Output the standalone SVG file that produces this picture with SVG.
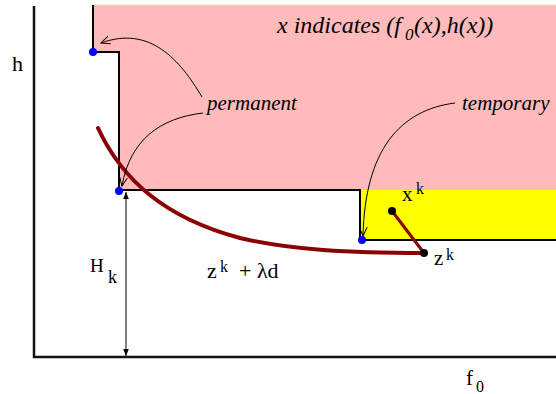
<svg xmlns="http://www.w3.org/2000/svg" width="556" height="394" viewBox="0 0 556 394">
<defs>
<style>
text{font-family:"Liberation Serif","DejaVu Serif",serif;fill:#000}
.i{font-style:italic}
.thin{fill:none;stroke:#000;stroke-width:1}
.red{fill:none;stroke:#8b0000;stroke-width:4;stroke-linecap:round}
.blue{fill:#0000ff}
</style>
<marker id="open" viewBox="0 0 10 10" refX="9" refY="5" markerWidth="10" markerHeight="10" markerUnits="userSpaceOnUse" orient="auto">
<path d="M0,1 L9,5 L0,9" fill="none" stroke="#000" stroke-width="1"/>
</marker>
<marker id="solid" viewBox="0 0 10 10" refX="10" refY="5" markerWidth="7" markerHeight="7" markerUnits="userSpaceOnUse" orient="auto-start-reverse">
<path d="M0,1 L10,5 L0,9 Z" fill="#000"/>
</marker>
</defs>
<rect width="556" height="394" fill="#fff"/>
<g id="regions">
<path d="M93,5 L556,5 L556,190 L119,190 L119,52 L93,52 Z" fill="#ffbbbb"/>
<line x1="93" y1="5" x2="556" y2="5" stroke="#ffe0a0" stroke-width="1"/>
<rect x="360" y="190" width="196" height="50" fill="#ffff00"/>
</g>
<g id="axes" fill="none" stroke="#111" stroke-width="2.5">
<path d="M34,6 L34,357 L556,357"/>
</g>
<g id="staircase">
<path d="M93,5 L93,52 L119,52 L119,190 L360,190 L360,240 L556,240" fill="none" stroke="#000" stroke-width="2"/>
</g>
<g id="connectors">
<path class="red" d="M98,128 C122,180 165,218 240,238 C290,250 350,253 424,253"/>
<line x1="392" y1="211" x2="424" y2="253" stroke="#8b0000" stroke-width="3"/>
<path class="thin" d="M202,97 C180,60 150,25 101,43" marker-end="url(#open)"/>
<path class="thin" d="M203,113 C160,118 130,140 122,186" marker-end="url(#open)"/>
<path class="thin" d="M455,103 C400,110 365,150 363,236" marker-end="url(#open)"/>
<line x1="126" y1="192" x2="126" y2="356" stroke="#000" stroke-width="1" marker-start="url(#solid)" marker-end="url(#solid)"/>
</g>
<g id="points">
<circle class="blue" cx="93" cy="52" r="4"/>
<circle class="blue" cx="119" cy="191" r="4"/>
<circle class="blue" cx="362" cy="240" r="4"/>
<circle cx="392" cy="211" r="4" fill="#000"/>
<circle cx="424" cy="253" r="4" fill="#000"/>
</g>
<g id="labels">
<text class="i" x="277" y="33" font-size="24">x indicates (f</text>
<text class="i" x="405" y="40" font-size="17">0</text>
<text class="i" x="414" y="33" font-size="24">(x),h(x))</text>
<text class="i" x="207" y="110" font-size="21">permanent</text>
<text class="i" x="462" y="110" font-size="21">temporary</text>
<text x="12" y="71" font-size="22">h</text>
<text x="90" y="272" font-size="19">H</text>
<text x="108" y="283" font-size="18">k</text>
<text x="207" y="278" font-size="22">z</text>
<text x="220" y="272" font-size="16">k</text>
<text x="239" y="278" font-size="22">+ λd</text>
<text x="402" y="201" font-size="21">x</text>
<text x="416" y="194" font-size="16">k</text>
<text x="434" y="265" font-size="21">z</text>
<text x="446" y="260" font-size="16">k</text>
<text x="466" y="385" font-size="21">f</text>
<text x="476" y="392" font-size="16">0</text>
</g>
</svg>
